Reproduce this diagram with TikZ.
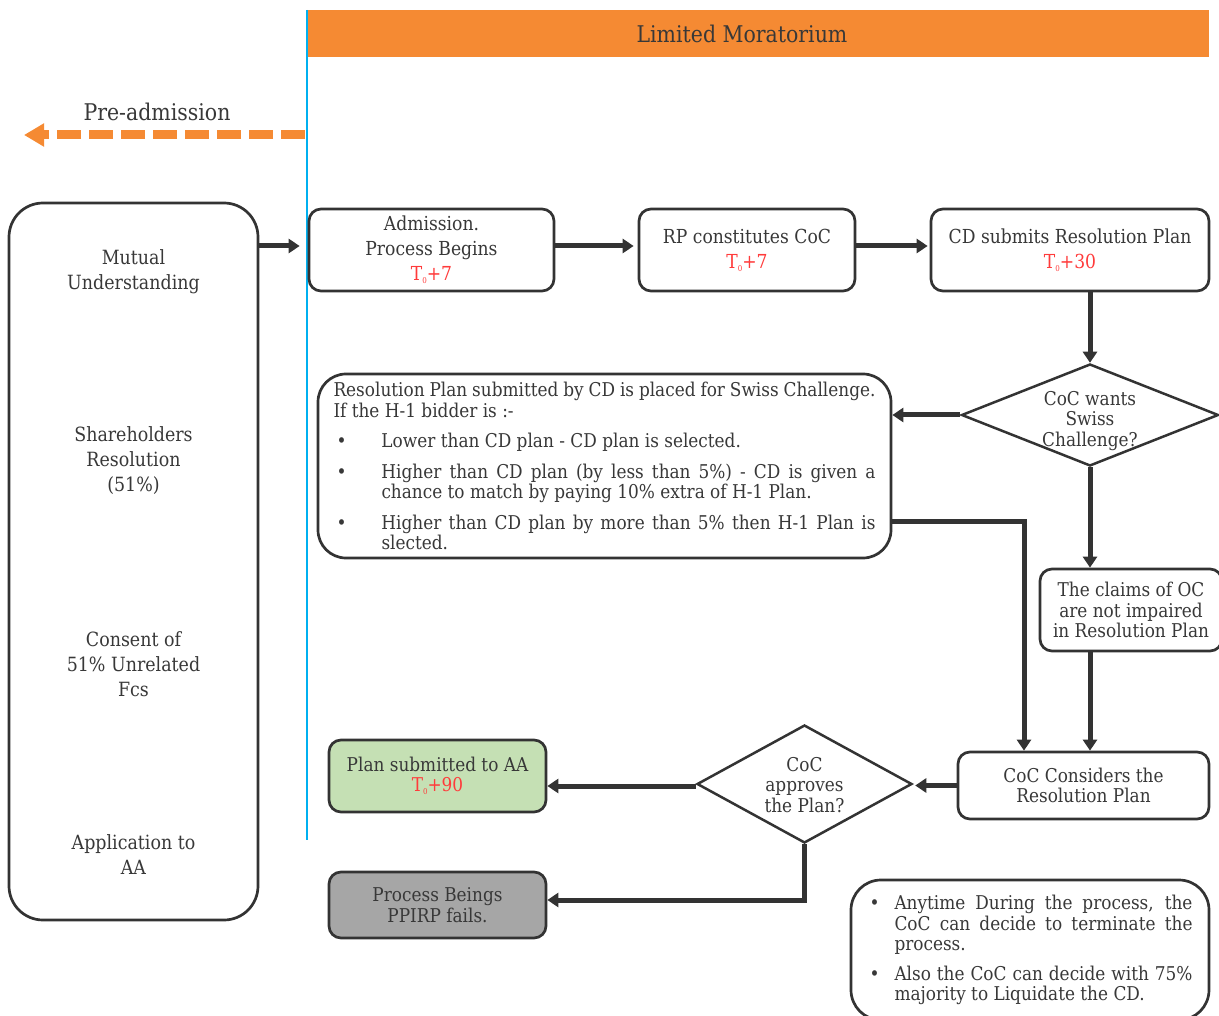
\documentclass[tikz,border=0pt]{standalone}
\usepackage{fontspec}
\setmainfont{DejaVu Serif}[FakeStretch=0.89]
\usetikzlibrary{arrows.meta,shapes.geometric}
\definecolor{txt}{HTML}{383838}
\definecolor{ln}{HTML}{333333}
\definecolor{org}{HTML}{F58A33}
\definecolor{cyanl}{HTML}{00B0F0}
\definecolor{redt}{HTML}{FF3B3B}
\definecolor{grn}{HTML}{C5E0B4}
\definecolor{gry}{HTML}{A6A6A6}
\newcommand{\tz}[1]{\textcolor{redt}{T\raisebox{-0.3ex}{\fontsize{8}{8}\selectfont 0}+#1}}
\newcommand{\fa}{\fontsize{19.3}{25}\selectfont}
\newcommand{\fl}{\fontsize{19.6}{25}\selectfont}
\newcommand{\fb}{\fontsize{19}{20.5}\selectfont}
\newcommand{\fh}{\fontsize{23}{27}\selectfont}
\newcommand{\bul}[1]{\par\vspace{#1}\hangindent=48pt\hangafter=1\noindent\makebox[48pt][l]{\hspace{3pt}\textbullet}}
\newcommand{\bulb}[1]{\par\vspace{#1}\hangindent=27pt\hangafter=1\noindent\makebox[27pt][l]{\hspace{2pt}\textbullet}}
\tikzset{
  box/.style={draw=ln, line width=2.7pt, rounded corners=12pt, fill=white, align=center, inner sep=0pt, text=txt},
  dia/.style={draw=ln, line width=2.5pt, diamond, fill=white, inner sep=0pt, text=txt},
  conn/.style={draw=ln, line width=5pt, -{Triangle[length=11pt,width=14pt]}},
  plain/.style={text=txt, align=center, inner sep=0pt},
}
\begin{document}
\begin{tikzpicture}[x=1pt,y=-1pt]
\useasboundingbox (0,0) rectangle (1219,1016);
% banner and divider
\node[fill=org, minimum width=901pt, minimum height=47pt, inner sep=0pt] (ban) at (758.5,33.5) {};
\node[plain, font=\fh] (bantxt) at (742,34) {Limited Moratorium};
\coordinate (vtop) at (307,10);
\coordinate (vbot) at (307,840);
\draw[cyanl, line width=2.8pt] (vtop) -- (vbot);
% pre-admission
\node[plain, font=\fh] (pre) at (157,112) {Pre-admission};
\coordinate (pa1) at (305,135);
\coordinate (pa2) at (24,135);
\draw[org, line width=9pt, dash pattern=on 24pt off 8pt, -{Triangle[length=20pt,width=22pt]}] (pa1) -- (pa2);
% left box
\node[box, rounded corners=34pt, minimum width=249pt, minimum height=717pt] (lb) at (133.5,561.5) {};
\node[plain, font=\fl] (l1) at (133.5,272) {Mutual\\Understanding};
\node[plain, font=\fl] (l2) at (133.5,461) {Shareholders\\Resolution\\(51\%)};
\node[plain, font=\fl] (l3) at (133.5,664) {Consent of\\51\% Unrelated\\Fcs};
\node[plain, font=\fl] (l4) at (133.5,855) {Application to\\AA};
% top row
\node[box, font=\fa, minimum width=245pt, minimum height=82pt] (adm) at (431.5,250) {Admission.\\Process Begins\\\tz{7}};
\node[box, font=\fa, minimum width=216pt, minimum height=82pt] (rp) at (747,250) {RP constitutes CoC\\\tz{7}};
\node[box, font=\fa, minimum width=278pt, minimum height=82pt] (cd) at (1070,250) {CD submits Resolution Plan\\\tz{30}};
% diamond 1
\node[dia, minimum width=257pt, minimum height=102pt] (d1) at (1090,415) {};
\node[plain, font=\fb] (d1t) at (1090,421) {CoC wants\\Swiss\\Challenge?};
% swiss challenge text box
\node[box, rounded corners=28pt, minimum width=573pt, minimum height=184pt, align=left] (tb) at (604.5,466) {\parbox{542pt}{\fb\color{txt}%
Resolution Plan submitted by CD is placed for Swiss Challenge.\\
If the H-1 bidder is :-%
\bul{10pt}Lower than CD plan - CD plan is selected.%
\bul{10pt}Higher than CD plan (by less than 5\%) - CD is given a\linebreak chance to match by paying 10\% extra of H-1 Plan.%
\bul{10pt}Higher than CD plan by more than 5\% then H-1 Plan is\linebreak slected.}};
% claims
\node[box, font=\fb, minimum width=182pt, minimum height=82pt] (cl) at (1131,610) {The claims of OC\\are not impaired\\in Resolution Plan};
% considers
\node[box, font=\fb, minimum width=251pt, minimum height=67pt] (cons) at (1083.5,785.5) {CoC Considers the\\Resolution Plan};
% diamond 2
\node[dia, minimum width=215pt, minimum height=118pt] (d2) at (804.5,784) {};
\node[plain, font=\fb] (d2t) at (804.5,785) {CoC\\approves\\the Plan?};
% outcomes
\node[box, fill=grn, font=\fb, minimum width=217pt, minimum height=72pt] (plan) at (437.5,776) {Plan submitted to AA\\\tz{90}};
\node[box, fill=gry, font=\fb, minimum width=217pt, minimum height=66pt] (fail) at (437.5,905) {Process Beings\\PPIRP fails.};
% note box
\node[box, rounded corners=30pt, minimum width=358pt, minimum height=140pt, align=left] (note) at (1030,950) {\parbox{325pt}{\fb\color{txt}%
\hangindent=27pt\hangafter=1\noindent\makebox[27pt][l]{\hspace{2pt}\textbullet}Anytime During the process, the\linebreak CoC can decide to terminate the\linebreak process.%
\bulb{9pt}Also the CoC can decide with 75\%\linebreak majority to Liquidate the CD.}};
% connectors
\coordinate (j1) at (1024,521);
\draw[conn, shorten >=8pt] ([yshift=4pt]lb.east |- adm.west) -- ([yshift=4pt]adm.west);
\draw[conn, shorten >=4pt] ([yshift=4pt]adm.east) -- ([yshift=4pt]rp.west);
\draw[conn, shorten >=2pt] ([yshift=4pt]rp.east) -- ([yshift=4pt]cd.west);
\draw[conn] (cd.south -| d1.north) -- (d1.north);
\draw[conn] (d1.west) -- (d1.west -| tb.east);
\draw[conn] (d1.south) -- (cl.north -| d1.south);
\draw[conn] (cl.south -| d1.south) -- (cons.north -| d1.south);
\draw[conn] (tb.east |- j1) -- (j1) -- (j1 |- cons.north);
\draw[conn, shorten >=2pt] (cons.west) -- (cons.west -| d2.east);
\draw[conn] ([yshift=-2pt]d2.west) -- ([yshift=-2pt]d2.west -| plan.east);
\draw[conn] (d2.south) |- ([yshift=5pt]fail.east);
\end{tikzpicture}
\end{document}
